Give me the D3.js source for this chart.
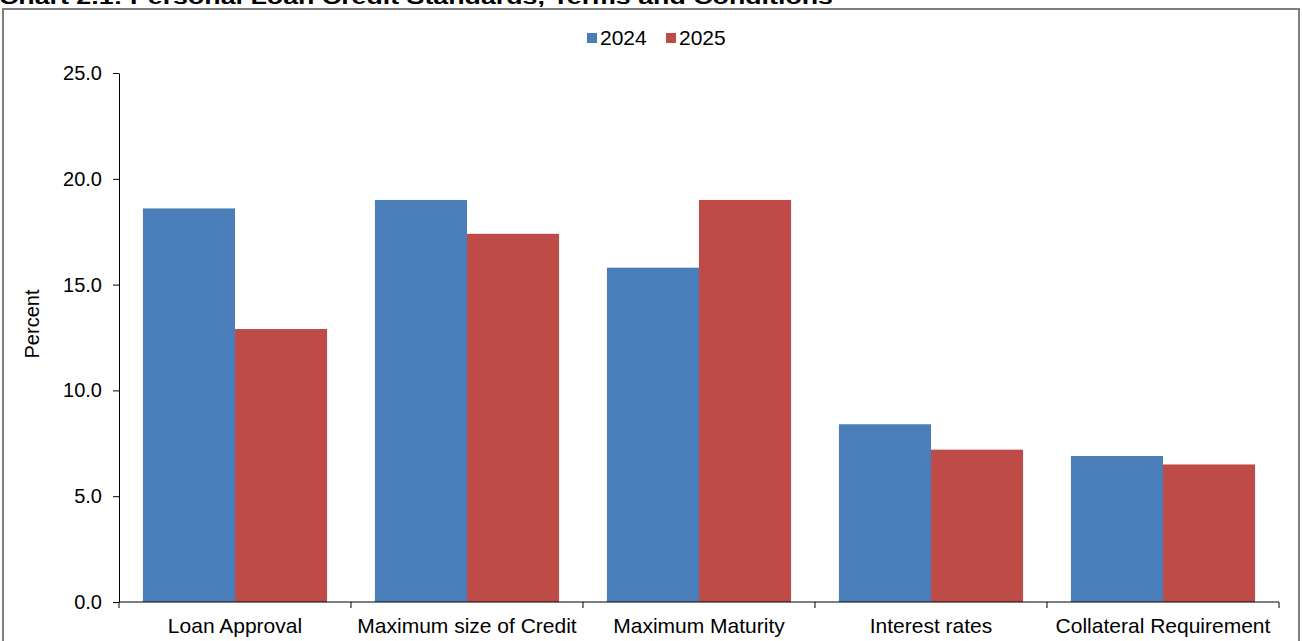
<!DOCTYPE html>
<html>
<head>
<meta charset="utf-8">
<script src="https://cdn.jsdelivr.net/npm/d3@7"></script>
<style>
  html, body { margin: 0; padding: 0; background: #fff; }
  svg { display: block; font-family: "Liberation Sans", Arial, sans-serif; }
</style>
</head>
<body>
<svg id="chart" width="1302" height="641"></svg>
<script>
// Personal loan credit standards, terms and conditions (share of respondents, %)
const categories = ["Loan Approval", "Maximum size of Credit", "Maximum Maturity", "Interest rates", "Collateral Requirement"];
const years = ["2024", "2025"];
const values2024 = [18.6, 19.0, 15.8, 8.4, 6.9];
const values2025 = [12.9, 17.4, 19.0, 7.2, 6.5];
const yTicks = [0, 5, 10, 15, 20, 25];
const colors = ["#4A7EBB", "#BE4B48"];

const svg = d3.select("#chart");
const W = 1302, H = 641;
const m = { left: 119, right: 23, top: 73, bottom: 39 };

// Title (sits mostly above the visible frame)
svg.append("text")
  .attr("x", -1).attr("y", 4)
  .attr("font-size", 21).attr("font-weight", "bold")
  .attr("textLength", 834).attr("lengthAdjust", "spacingAndGlyphs")
  .text("Chart 2.1: Personal Loan Credit Standards, Terms and Conditions");

// Chart frame
svg.append("rect")
  .attr("x", 3).attr("y", 9).attr("width", 1296).attr("height", 660)
  .attr("fill", "none").attr("stroke", "#7f7f7f").attr("stroke-width", 2);

const x0 = d3.scaleBand().domain(categories).range([m.left, W - m.right]).paddingInner(0).paddingOuter(0);
const x1 = d3.scaleBand().domain(years).range([0, x0.bandwidth()]).paddingInner(0).paddingOuter(0.26);
const y = d3.scaleLinear().domain([0, 25]).range([H - m.bottom, m.top]);

const rows = categories.map((c, i) => ({ cat: c, vals: [values2024[i], values2025[i]] }));

// Bars
const g = svg.append("g");
rows.forEach(r => {
  r.vals.forEach((v, j) => {
    g.append("rect")
      .attr("x", x0(r.cat) + x1(years[j]))
      .attr("y", y(v))
      .attr("width", x1.bandwidth())
      .attr("height", y(0) - y(v))
      .attr("fill", colors[j]);
  });
});

// Y axis
const yAxis = d3.axisLeft(y).tickValues(yTicks).tickFormat(d3.format(".1f")).tickSize(6).tickSizeOuter(0);
const ya = svg.append("g").attr("transform", `translate(${m.left},0)`).call(yAxis);
ya.attr("font-size", null).attr("font-family", null);
ya.select(".domain").attr("stroke", "#000").attr("stroke-width", 1);
ya.selectAll(".tick line").attr("stroke", "#000");
ya.selectAll(".tick text").attr("font-size", 20).attr("fill", "#000").attr("x", -17);

// X axis with ticks at category boundaries
const xa = svg.append("g").attr("transform", `translate(0,${y(0)})`);
xa.append("line").attr("x1", m.left).attr("x2", W - m.right).attr("stroke", "#000");
const bounds = categories.map(c => x0(c)).concat([x0(categories[categories.length - 1]) + x0.bandwidth()]);
xa.selectAll(".bt").data(bounds).enter().append("line")
  .attr("x1", d => d).attr("x2", d => d).attr("y1", 0).attr("y2", 6).attr("stroke", "#000");
xa.selectAll(".lbl").data(categories).enter().append("text")
  .attr("x", d => x0(d) + x0.bandwidth() / 2)
  .attr("y", 31)
  .attr("text-anchor", "middle").attr("font-size", 21).attr("fill", "#000")
  .text(d => d);

// Y axis title
svg.append("text")
  .attr("transform", "translate(39,324) rotate(-90)")
  .attr("text-anchor", "middle").attr("font-size", 20).attr("fill", "#000")
  .text("Percent");

// Legend
const legend = svg.append("g").attr("transform", "translate(587,33)");
const lx = [0, 79];
years.forEach((yr, j) => {
  legend.append("rect").attr("x", lx[j]).attr("y", 0).attr("width", 10).attr("height", 10).attr("fill", colors[j]);
  legend.append("text").attr("x", lx[j] + 13).attr("y", 12).attr("font-size", 21).attr("fill", "#000").text(yr);
});
</script>
</body>
</html>
